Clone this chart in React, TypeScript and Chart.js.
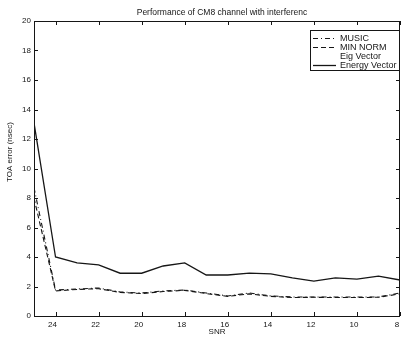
import React, { useEffect, useRef } from "react";
import { Chart, registerables } from "chart.js";

Chart.register(...registerables);

const SNR = [25, 24, 23, 22, 21, 20, 19, 18, 17, 16, 15, 14, 13, 12, 11, 10, 9, 8];
const MUSIC = [8.7, 1.76, 1.83, 1.9, 1.63, 1.56, 1.7, 1.76, 1.56, 1.36, 1.56, 1.36, 1.29, 1.29, 1.29, 1.29, 1.29, 1.56];
const MIN_NORM = [8.0, 1.7, 1.8, 1.85, 1.6, 1.52, 1.66, 1.74, 1.52, 1.33, 1.5, 1.33, 1.25, 1.27, 1.25, 1.25, 1.27, 1.5];
const EIG_VECTOR: number[] = [];
const ENERGY_VECTOR = [13.1, 4.0, 3.6, 3.46, 2.9, 2.9, 3.39, 3.6, 2.78, 2.78, 2.9, 2.85, 2.58, 2.37, 2.58, 2.5, 2.7, 2.44];

const TITLE = "Performance of CM8 channel with interferenc";
const X_TITLE = "SNR";
const Y_TITLE = "TOA error (nsec)";
const SERIES_LABELS = ["MUSIC", "MIN NORM", "Eig Vector", "Energy Vector"];

const FONT = '"Liberation Sans", Arial, Helvetica, sans-serif';
const INK = "#161616";

const toPoints = (vals: number[]) => vals.map((v, i) => ({ x: SNR[i], y: v }));

const decor = {
  id: "decor",
  afterDraw(chart: any) {
    const { ctx, chartArea: a, scales } = chart;
    const xs = scales.x;
    const ys = scales.y;
    ctx.save();
    ctx.strokeStyle = INK;
    ctx.lineWidth = 1;
    ctx.beginPath();
    ctx.rect(Math.round(a.left) + 0.5, Math.round(a.top) + 0.5, Math.round(a.right - a.left) - 1, Math.round(a.bottom - a.top));
    ctx.stroke();
    const tl = 4;
    ctx.beginPath();
    xs.ticks.forEach((t: any) => {
      const px = Math.round(xs.getPixelForValue(t.value)) + 0.5;
      ctx.moveTo(px, a.bottom);
      ctx.lineTo(px, a.bottom - tl);
      ctx.moveTo(px, a.top);
      ctx.lineTo(px, a.top + tl);
    });
    ys.ticks.forEach((t: any) => {
      const py = Math.round(ys.getPixelForValue(t.value)) + 0.5;
      ctx.moveTo(a.left, py);
      ctx.lineTo(a.left + tl, py);
      ctx.moveTo(a.right, py);
      ctx.lineTo(a.right - tl, py);
    });
    ctx.stroke();

    ctx.fillStyle = INK;
    ctx.font = `8.5px ${FONT}`;
    ctx.textAlign = "center";
    ctx.textBaseline = "middle";
    ctx.fillText(TITLE, 222, 13);

    ctx.save();
    ctx.font = `8px ${FONT}`;
    ctx.translate(10, 152);
    ctx.rotate(-Math.PI / 2);
    ctx.fillText(Y_TITLE, 0, 0);
    ctx.restore();

    const bx = 310, by = 30, bw = 90, bh = 41;
    ctx.fillStyle = "#ffffff";
    ctx.fillRect(bx, by, bw, bh);
    ctx.strokeStyle = INK;
    ctx.setLineDash([]);
    ctx.strokeRect(bx + 0.5, by + 0.5, bw - 1, bh - 1);
    ctx.font = `9px ${FONT}`;
    ctx.textAlign = "left";
    ctx.textBaseline = "middle";
    chart.data.datasets.forEach((ds: any, i: number) => {
      const ry = by + 8 + i * 9 + 0.5;
      ctx.strokeStyle = ds.borderColor;
      ctx.lineWidth = ds.borderWidth;
      ctx.setLineDash(ds.borderDash || []);
      ctx.beginPath();
      ctx.moveTo(bx + 3, ry);
      ctx.lineTo(bx + 26, ry);
      ctx.stroke();
      ctx.setLineDash([]);
      ctx.fillStyle = INK;
      ctx.fillText(ds.label, bx + 30, ry);
    });
    ctx.restore();
  },
};

export default function App() {
  const ref = useRef<HTMLCanvasElement | null>(null);
  useEffect(() => {
    if (!ref.current) return;
    const chart = new Chart(ref.current, {
      type: "line",
      data: {
        datasets: [
          {
            label: SERIES_LABELS[0],
            data: toPoints(MUSIC),
            borderColor: INK,
            borderWidth: 1.1,
            borderDash: [5, 3, 1, 3],
            pointRadius: 0,
            tension: 0,
          },
          {
            label: SERIES_LABELS[1],
            data: toPoints(MIN_NORM),
            borderColor: INK,
            borderWidth: 1.1,
            borderDash: [5, 3],
            pointRadius: 0,
            tension: 0,
          },
          {
            label: SERIES_LABELS[2],
            data: toPoints(EIG_VECTOR),
            borderColor: "rgba(0,0,0,0)",
            borderWidth: 1,
            borderDash: [1, 3],
            pointRadius: 0,
          },
          {
            label: SERIES_LABELS[3],
            data: toPoints(ENERGY_VECTOR),
            borderColor: INK,
            borderWidth: 1.3,
            pointRadius: 0,
            tension: 0,
          },
        ],
      },
      options: {
        animation: false,
        responsive: false,
        events: [],
        layout: { padding: { top: 21, right: 2, left: 0, bottom: 0 } },
        plugins: {
          legend: { display: false },
          title: { display: false },
          tooltip: { enabled: false },
        },
        scales: {
          x: {
            type: "linear",
            reverse: true,
            min: 8,
            max: 25,
            grid: { display: false, drawTicks: false },
            border: { display: false },
            ticks: {
              stepSize: 2,
              includeBounds: false,
              padding: 4,
              labelOffset: -3,
              color: INK,
              font: { family: FONT, size: 8 },
            },
            title: {
              display: true,
              text: X_TITLE,
              color: INK,
              padding: { top: 0, bottom: 0 },
              font: { family: FONT, size: 8 },
            },
            afterFit(scale: any) {
              scale.height = 21;
              scale.paddingLeft = 0;
              scale.paddingRight = 0;
            },
          },
          y: {
            type: "linear",
            min: 0,
            max: 20,
            grid: { display: false, drawTicks: false },
            border: { display: false },
            ticks: {
              stepSize: 2,
              padding: 3,
              color: INK,
              font: { family: FONT, size: 8 },
            },
            afterFit(scale: any) {
              scale.width = 34;
              scale.paddingTop = 0;
              scale.paddingBottom = 0;
            },
          },
        },
      },
      plugins: [decor],
    } as any);
    return () => chart.destroy();
  }, []);

  return (
    <div style={{ position: "absolute", left: 0, top: 0, width: 402, height: 337, background: "#fff" }}>
      <canvas ref={ref} width={402} height={337} />
    </div>
  );
}
